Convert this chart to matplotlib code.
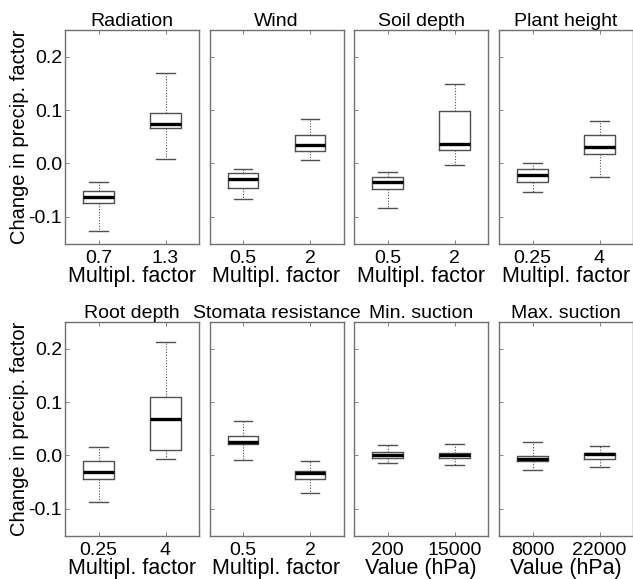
import matplotlib.pyplot as plt

plt.rcParams['font.family'] = ['Liberation Sans', 'DejaVu Sans']

# panel titles, tick labels and axis labels
titles = ["Radiation", "Wind", "Soil depth", "Plant height",
          "Root depth", "Stomata resistance", "Min. suction", "Max. suction"]
ticklabels = [["0.7", "1.3"], ["0.5", "2"], ["0.5", "2"], ["0.25", "4"],
              ["0.25", "4"], ["0.5", "2"], ["200", "15000"], ["8000", "22000"]]
xlabels = ["Multipl. factor"] * 6 + ["Value (hPa)"] * 2

# box statistics per panel, two boxes each: (lower whisker, q1, median, q3, upper whisker)
low_stats = [
    (-0.126, -0.074, -0.0625, -0.051, -0.034),
    (-0.0675, -0.046, -0.029, -0.0175, -0.010),
    (-0.084, -0.047, -0.035, -0.026, -0.016),
    (-0.053, -0.035, -0.021, -0.011, 0.001),
    (-0.088, -0.044, -0.031, -0.010, 0.015),
    (-0.008, 0.021, 0.025, 0.036, 0.065),
    (-0.014, -0.004, 0.000, 0.006, 0.019),
    (-0.028, -0.011, -0.006, -0.001, 0.025),
]
high_stats = [
    (0.008, 0.066, 0.074, 0.095, 0.169),
    (0.006, 0.024, 0.035, 0.053, 0.084),
    (-0.002, 0.026, 0.036, 0.099, 0.149),
    (-0.025, 0.017, 0.031, 0.054, 0.079),
    (-0.006, 0.011, 0.069, 0.109, 0.212),
    (-0.070, -0.044, -0.033, -0.029, -0.011),
    (-0.0175, -0.004, 0.000, 0.004, 0.022),
    (-0.021, -0.006, 0.002, 0.004, 0.0175),
]

W, H = 633, 579
fig = plt.figure(figsize=(W / 100, H / 100), dpi=100)

lefts = [65, 209.5, 354, 499]
tops = [30, 322]
aw, ah = 134, 213.5

frame_col = "#707070"
box_col = "#505050"

for i, title in enumerate(titles):
    row, col = divmod(i, 4)
    l = lefts[col]
    t = tops[row]
    ax = fig.add_axes([l / W, 1 - (t + ah) / H, aw / W, ah / H])
    stats = []
    for s in (low_stats[i], high_stats[i]):
        stats.append(dict(whislo=s[0], q1=s[1], med=s[2], q3=s[3], whishi=s[4], fliers=[]))
    ax.bxp(stats, positions=[1, 2], widths=0.46, showfliers=False,
           boxprops=dict(color=box_col, linewidth=1.0),
           whiskerprops=dict(color=box_col, linewidth=0.8, linestyle=(0, (1, 1.5))),
           capprops=dict(color=box_col, linewidth=1.0),
           medianprops=dict(color="black", linewidth=2.4, solid_capstyle="butt"),
           capwidths=0.27)
    ax.set_xlim(0.5, 2.5)
    ax.set_ylim(-0.15, 0.25)
    ax.set_yticks([-0.1, 0.0, 0.1, 0.2])
    ax.set_xticks([1, 2])
    ax.set_xticklabels(ticklabels[i])
    ax.tick_params(direction="in", length=3, width=0.6, color=frame_col,
                   labelsize=14, top=True)
    ax.tick_params(axis="x", pad=5)
    ax.tick_params(axis="y", pad=2)
    if col == 0:
        ax.set_yticklabels(["-0.1", "0.0", "0.1", "0.2"])
        ax.set_ylabel("Change in precip. factor", fontsize=14.5, labelpad=0)
    else:
        ax.set_yticklabels([])
    ax.set_xlabel(xlabels[i], fontsize=15.5, labelpad=-1)
    ax.set_title(title, fontsize=14, pad=3)
    for sp in ax.spines.values():
        sp.set_color(frame_col)
        sp.set_linewidth(1.0)

fig.savefig("out.png", dpi=100)
